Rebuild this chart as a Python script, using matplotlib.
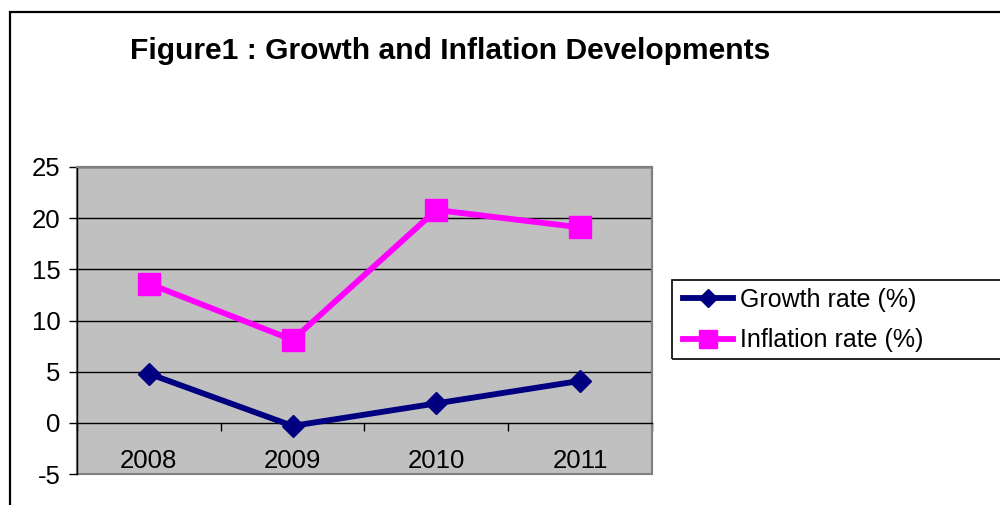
import matplotlib
matplotlib.use("Agg")
import matplotlib.pyplot as plt
from matplotlib.patches import Rectangle

years = ["2008", "2009", "2010", "2011"]
growth = [4.8, -0.3, 1.9, 4.1]
inflation = [13.6, 8.1, 20.8, 19.1]
yticks = [-5, 0, 5, 10, 15, 20, 25]
series_names = ["Growth rate (%)", "Inflation rate (%)"]
title = "Figure1 : Growth and Inflation Developments"

plt.rcParams['font.family'] = ['Liberation Sans', 'DejaVu Sans']

W, H = 1000, 505
fig = plt.figure(figsize=(W / 100, H / 100), dpi=100)

# outer frame (cut off at right/bottom)
fig.patches.append(Rectangle((10 / W, -0.1), 1.2, 1 - 12 / H + 0.1, transform=fig.transFigure,
                             fill=False, edgecolor='black', linewidth=1.6, zorder=0))

ax = fig.add_axes([77 / W, 1 - 474 / H, (652 - 77) / W, (474 - 167) / H])
ax.set_facecolor('#C0C0C0')
x = list(range(len(years)))

ax.plot(x, growth, color='#000080', linewidth=4.2, marker='D', markersize=11.5,
        label=series_names[0], zorder=4, clip_on=False)
ax.plot(x, inflation, color='#FF00FF', linewidth=4.2, marker='s', markersize=16,
        label=series_names[1], zorder=4, clip_on=False)

ax.set_xlim(-0.5, len(years) - 0.5)
ax.set_ylim(-5, 25)
ax.set_yticks(yticks)
ax.set_yticklabels([str(v) for v in yticks])
for v in yticks[2:]:
    ax.axhline(v, color='black', linewidth=1.0, zorder=1)

# x axis at zero
ax.spines['bottom'].set_position(('data', 0))
ax.spines['bottom'].set_color('black')
ax.spines['bottom'].set_linewidth(1.0)
ax.set_xticks([i - 0.5 for i in range(len(years) + 1)])
ax.set_xticklabels([])
ax.set_xticks(x, minor=True)
ax.set_xticklabels(years, minor=True)
ax.tick_params(axis='x', which='major', direction='out', length=6, width=1, color='black')
ax.tick_params(axis='x', which='minor', length=0, pad=19, labelsize=18.5)
ax.tick_params(axis='y', direction='out', length=6, width=1, labelsize=18.5, pad=6)

ax.spines['left'].set_color('black')
ax.spines['left'].set_linewidth(1.0)
for s in ['top', 'right']:
    ax.spines[s].set_color('#808080')
    ax.spines[s].set_linewidth(1.5)

# bottom border of plot area
ax.add_patch(Rectangle((0, 0), 1, 1, transform=ax.transAxes, fill=False,
                       edgecolor='#808080', linewidth=1.5, zorder=0.5, clip_on=False))

fig.text(130 / W, 1 - 51 / H, title, fontsize=21.6, fontweight='bold', va='center', ha='left')

# legend
fig.patches.append(Rectangle((672 / W, 1 - 359 / H), 0.5, 79 / H, transform=fig.transFigure,
                             fill=False, edgecolor='black', linewidth=1.2, zorder=0))
handles, labels = ax.get_legend_handles_labels()
leg = fig.legend(handles, labels, loc='center left', bbox_to_anchor=(683 / W, 1 - 320 / H),
                 frameon=False, fontsize=18, handlelength=2.0, handletextpad=0.3,
                 labelspacing=0.68, markerscale=0.8, borderpad=0.0, borderaxespad=0)

fig.savefig("out.png", dpi=100)
